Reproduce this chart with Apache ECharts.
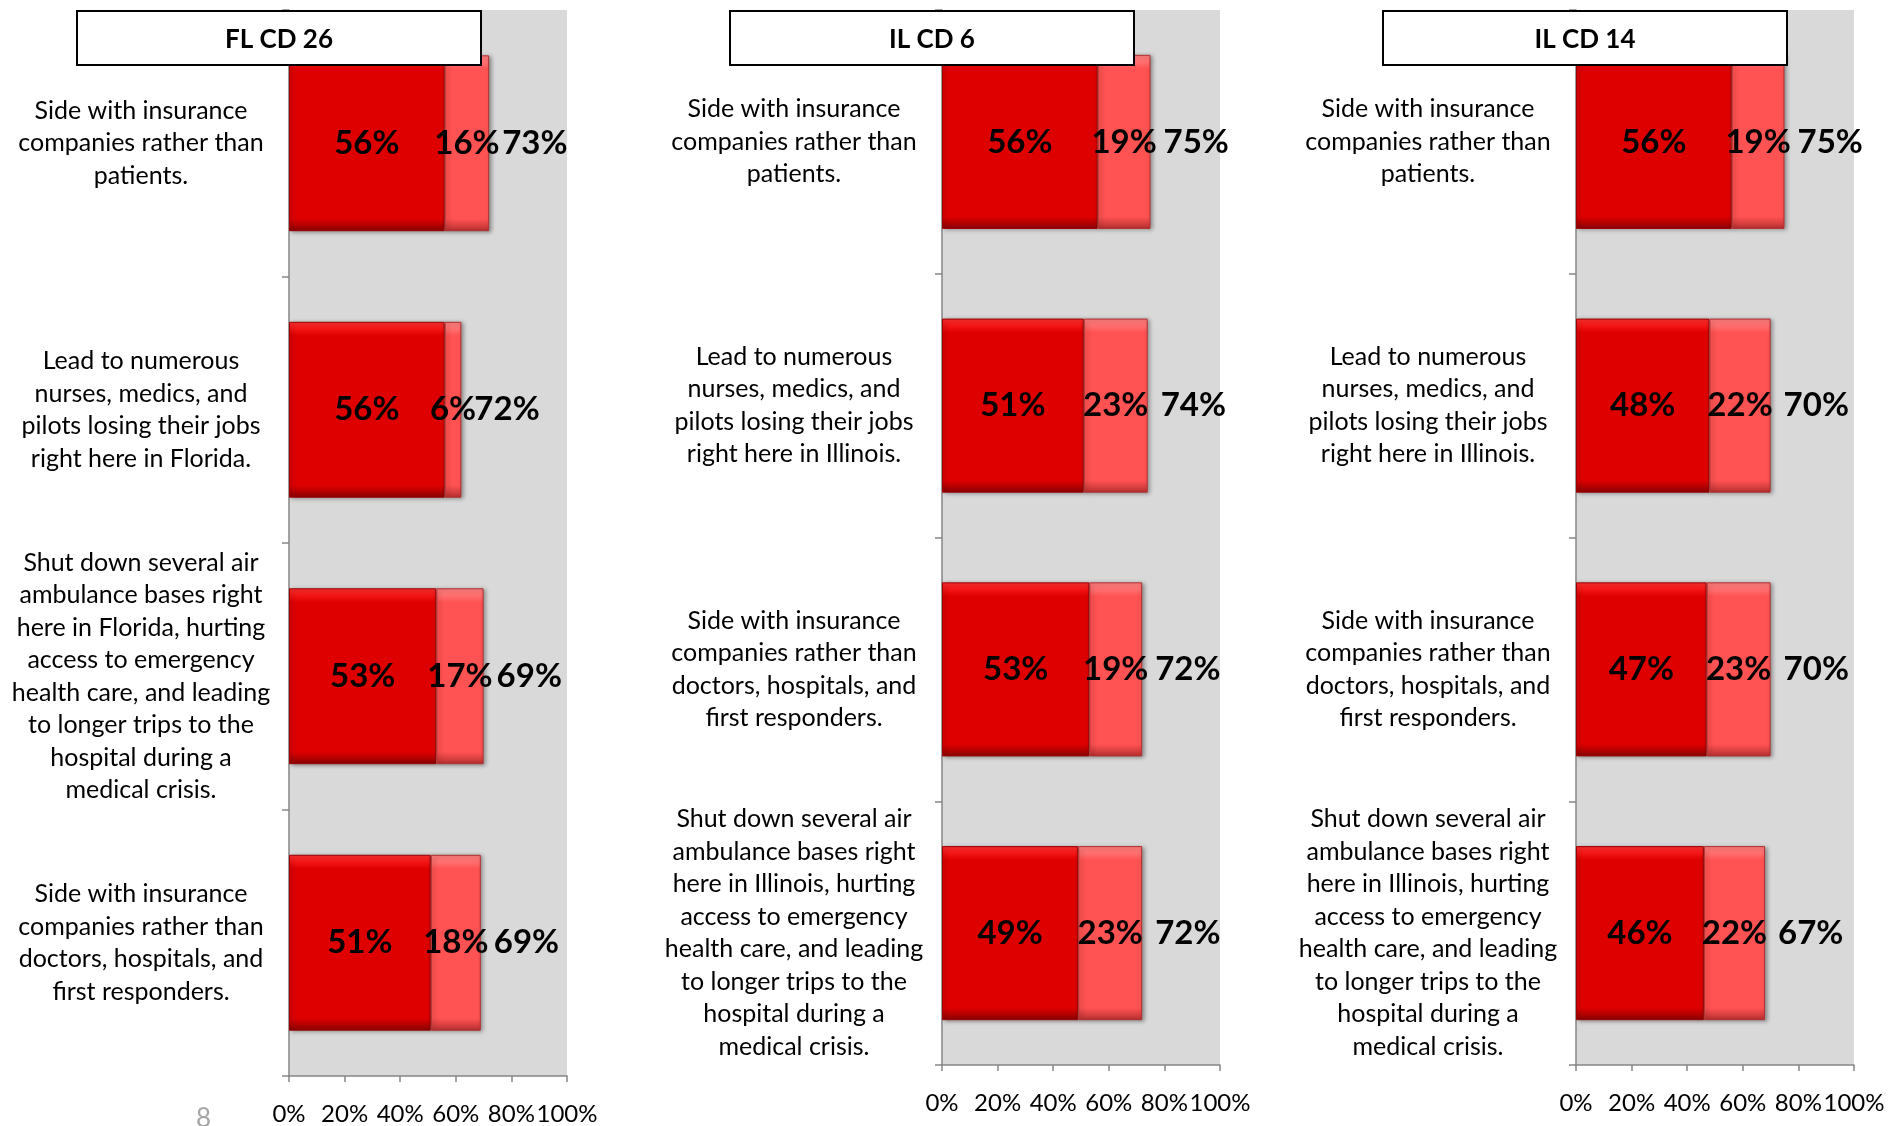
<!DOCTYPE html>
<html>
<head>
<meta charset="utf-8">
<script src="https://cdn.jsdelivr.net/npm/echarts@6/dist/echarts.min.js"></script>
<style>
html,body{margin:0;padding:0;background:#fff;}
#chart{width:1889px;height:1126px;}
</style>
</head>
<body>
<div id="chart"></div>
<script>
// ---- data ----
const panelTitles = ["FL CD 26", "IL CD 6", "IL CD 14"];

const flCategories = [
  "Side with insurance\ncompanies rather than\npatients.",
  "Lead to numerous\nnurses, medics, and\npilots losing their jobs\nright here in Florida.",
  "Shut down several air\nambulance bases right\nhere in Florida, hurting\naccess to emergency\nhealth care, and leading\nto longer trips to the\nhospital during a\nmedical crisis.",
  "Side with insurance\ncompanies rather than\ndoctors, hospitals, and\nfirst responders."
];
const ilCategories = [
  "Side with insurance\ncompanies rather than\npatients.",
  "Lead to numerous\nnurses, medics, and\npilots losing their jobs\nright here in Illinois.",
  "Side with insurance\ncompanies rather than\ndoctors, hospitals, and\nfirst responders.",
  "Shut down several air\nambulance bases right\nhere in Illinois, hurting\naccess to emergency\nhealth care, and leading\nto longer trips to the\nhospital during a\nmedical crisis."
];

const flStrong = [56, 56, 53, 51];
const flSomewhat = [16, 6, 17, 18];
const flTotal = [73, 72, 69, 69];

const il6Strong = [56, 51, 53, 49];
const il6Somewhat = [19, 23, 19, 23];
const il6Total = [75, 74, 72, 72];

const il14Strong = [56, 48, 47, 46];
const il14Somewhat = [19, 22, 23, 22];
const il14Total = [75, 70, 70, 67];

const xTicks = [0, 20, 40, 60, 80, 100];
const pageNumber = "8";

// ---- layout ----
const panels = [
  {title: panelTitles[0], cats: flCategories, strong: flStrong, some: flSomewhat, total: flTotal,
   left: 289, width: 278, top: 10, height: 1068, boxX: 77},
  {title: panelTitles[1], cats: ilCategories, strong: il6Strong, some: il6Somewhat, total: il6Total,
   left: 942, width: 278, top: 10, height: 1055, boxX: 730},
  {title: panelTitles[2], cats: ilCategories, strong: il14Strong, some: il14Somewhat, total: il14Total,
   left: 1576, width: 278, top: 10, height: 1055, boxX: 1383}
];

const FONT = "Lato, 'Open Sans', sans-serif";

function grad(c0, c1, c2, c3) {
  return {
    type: 'linear', x: 0, y: 0, x2: 0, y2: 1,
    colorStops: [
      {offset: 0, color: c0},
      {offset: 0.05, color: c1},
      {offset: 0.08, color: c2},
      {offset: 0.93, color: c2},
      {offset: 1, color: c3}
    ]
  };
}
const darkFill = grad('#ff3030', '#f01010', '#de0000', '#8a0000');
const lightFill = grad('#ff8080', '#ff6a6a', '#ff5252', '#b83030');

const grids = [], xAxes = [], yAxes = [], series = [], graphics = [];

panels.forEach((p, i) => {
  grids.push({left: p.left, top: p.top, width: p.width, height: p.height,
    show: true, backgroundColor: '#d9d9d9', borderWidth: 0});
  xAxes.push({
    type: 'value', gridIndex: i, min: xTicks[0], max: xTicks[xTicks.length - 1],
    interval: xTicks[1] - xTicks[0],
    axisLine: {show: true, lineStyle: {color: '#868686', width: 1.5}},
    axisTick: {show: true, length: 6, lineStyle: {color: '#868686', width: 1.5}},
    splitLine: {show: false},
    axisLabel: {formatter: '{value}%', color: '#000', fontSize: 24, fontFamily: FONT, margin: 26}
  });
  yAxes.push({
    type: 'category', gridIndex: i, data: p.cats, inverse: true,
    axisLine: {show: true, lineStyle: {color: '#868686', width: 1.5}},
    axisTick: {show: true, length: 7, lineStyle: {color: '#868686', width: 1.5}},
    axisLabel: {color: '#000', fontSize: 25, lineHeight: 32.5, fontFamily: FONT,
      align: 'center', margin: 148}
  });
  const valueLabel = {show: true, position: 'inside', formatter: '{c}%', color: '#000',
    fontSize: 33, fontWeight: 'bold', fontFamily: FONT};
  series.push({
    type: 'bar', xAxisIndex: i, yAxisIndex: i, stack: 's' + i, data: p.strong,
    barCategoryGap: '34%', z: 2,
    itemStyle: {color: darkFill, borderColor: '#9a0000', borderWidth: 1,
      shadowColor: 'rgba(0,0,0,0.35)', shadowBlur: 4, shadowOffsetX: 2, shadowOffsetY: 1},
    label: valueLabel
  });
  series.push({
    type: 'bar', xAxisIndex: i, yAxisIndex: i, stack: 's' + i, data: p.some,
    barCategoryGap: '34%', z: 2,
    itemStyle: {color: lightFill, borderColor: '#b03030', borderWidth: 1,
      shadowColor: 'rgba(0,0,0,0.35)', shadowBlur: 4, shadowOffsetX: 2, shadowOffsetY: 1},
    label: valueLabel
  });
  const totals = p.total;
  series.push({
    type: 'bar', xAxisIndex: i, yAxisIndex: i, stack: 's' + i, data: totals.map(() => 0),
    barCategoryGap: '34%', z: 2, itemStyle: {color: 'rgba(0,0,0,0)'},
    label: {show: true, position: 'right', distance: 13,
      formatter: (prm) => totals[prm.dataIndex] + '%', color: '#000',
      fontSize: 33, fontWeight: 'bold', fontFamily: FONT}
  });
  graphics.push({
    type: 'rect', x: p.boxX, y: 11, z: 200, zlevel: 1,
    shape: {x: 0, y: 0, width: 404, height: 54},
    style: {fill: '#fff', stroke: '#000', lineWidth: 2}
  });
  graphics.push({
    type: 'text', x: p.boxX + 202, y: 40, z: 201, zlevel: 1,
    style: {text: p.title, fill: '#000', font: 'bold 26px ' + FONT, align: 'center', verticalAlign: 'middle'}
  });
});

graphics.push({type: 'text', x: 196, y: 1106, z: 100,
  style: {text: pageNumber, fill: '#a6a6a6', font: '26px ' + FONT}});

const chart = echarts.init(document.getElementById('chart'));
chart.setOption({
  animation: false,
  grid: grids, xAxis: xAxes, yAxis: yAxes, series: series, graphic: graphics
});
</script>
</body>
</html>
